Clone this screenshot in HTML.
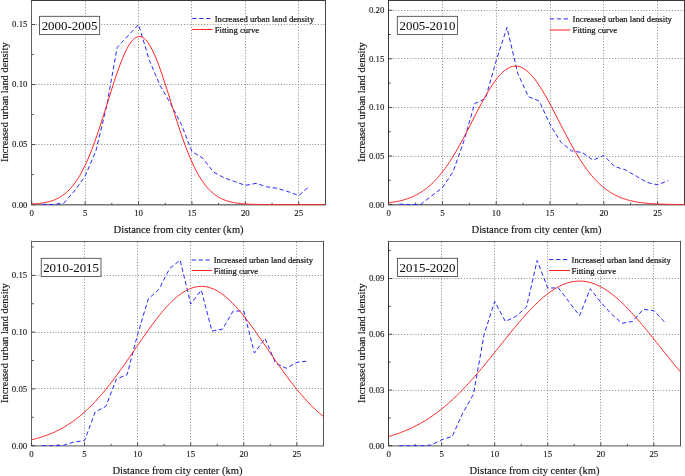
<!DOCTYPE html>
<html><head><meta charset="utf-8"><title>Urban land density</title>
<style>
html,body{margin:0;padding:0;background:#fff;}
body{width:685px;height:476px;overflow:hidden;font-family:"Liberation Serif",serif;}
svg{display:block;font-family:"Liberation Serif",serif;}
svg text{fill:#111;stroke:#111;stroke-width:0.2px;}
svg text.tk{stroke-width:0.1px;}
svg text.tt{stroke-width:0.04px;}
svg text.ax{stroke-width:0.14px;}
</style></head><body>
<svg width="685" height="476" viewBox="0 0 685 476">
<defs><filter id="gs" x="0" y="0" width="100%" height="100%" filterUnits="userSpaceOnUse" color-interpolation-filters="sRGB"><feColorMatrix type="saturate" values="0"/></filter></defs>
<rect width="685" height="476" fill="#fff"/>
<g><clipPath id="c0"><rect x="31.75" y="0.5" width="294.2" height="204.7"/></clipPath>
<path d="M85.5 1.4V204.6M138.5 1.4V204.6M191.5 1.4V204.6M245.5 1.4V204.6M298.5 1.4V204.6M32.95 144.5H325.45M32.95 84.5H325.45M32.95 24.5H325.45" fill="none" stroke="#888" stroke-width="1" stroke-dasharray="1 1.85"/>
<path d="M31 204.75H326" stroke="#777" stroke-width="1.3" fill="none"/>
<path d="M31.5 0V204.9" stroke="#606060" stroke-width="1" fill="none"/>
<path d="M31 0.5H326" stroke="#3a3a3a" stroke-width="1" fill="none"/>
<path d="M325.5 0V204.9" stroke="#484848" stroke-width="1" fill="none"/>
<path d="M31.75 204.6v-3.2M85.15 204.6v-3.2M138.55 204.6v-3.2M191.95 204.6v-3.2M245.35 204.6v-3.2M298.75 204.6v-3.2M58.45 204.6v-1.8M111.85 204.6v-1.8M165.25 204.6v-1.8M218.65 204.6v-1.8M272.05 204.6v-1.8M32 204.6h3.2M32 174.59h1.8M32 144.57h3.2M32 114.56h1.8M32 84.54h3.2M32 54.53h1.8M32 24.51h3.2" fill="none" stroke="#3a3a3a" stroke-width="0.9"/>
<g clip-path="url(#c0)"><polyline points="42.43,204.24 53.11,204.6 63.79,203.16 74.47,191.03 85.15,176.03 95.83,151.17 106.51,106.75 117.19,47.32 127.87,35.92 138.55,24.51 149.23,59.93 159.91,85.14 170.59,103.75 181.27,124.16 191.95,151.65 202.63,158.02 213.31,171.94 223.99,177.71 234.67,181.55 245.35,185.39 256.03,183.35 266.71,186.83 277.39,188.39 288.07,191.63 298.75,195.48 309.43,186.35" fill="none" stroke="#2828ff" stroke-width="1" stroke-dasharray="4.3 2.65" stroke-linejoin="round"/><polyline points="31.75,204.05 33.09,203.97 34.42,203.87 35.76,203.77 37.09,203.64 38.42,203.51 39.76,203.35 41.09,203.18 42.43,202.98 43.77,202.76 45.1,202.52 46.44,202.25 47.77,201.94 49.11,201.6 50.44,201.22 51.77,200.81 53.11,200.35 54.45,199.84 55.78,199.28 57.11,198.66 58.45,197.99 59.78,197.25 61.12,196.44 62.45,195.56 63.79,194.6 65.12,193.56 66.46,192.43 67.8,191.22 69.13,189.9 70.47,188.49 71.8,186.97 73.13,185.34 74.47,183.6 75.81,181.75 77.14,179.77 78.47,177.66 79.81,175.44 81.14,173.08 82.48,170.59 83.81,167.97 85.15,165.22 86.48,162.34 87.82,159.32 89.16,156.18 90.49,152.9 91.82,149.51 93.16,145.99 94.5,142.36 95.83,138.62 97.16,134.79 98.5,130.85 99.83,126.84 101.17,122.75 102.5,118.59 103.84,114.39 105.17,110.14 106.51,105.87 107.84,101.59 109.18,97.31 110.52,93.06 111.85,88.83 113.19,84.66 114.52,80.56 115.86,76.55 117.19,72.63 118.52,68.84 119.86,65.19 121.19,61.68 122.53,58.35 123.86,55.21 125.2,52.26 126.53,49.54 127.87,47.04 129.2,44.78 130.54,42.78 131.88,41.04 133.21,39.57 134.55,38.39 135.88,37.49 137.22,36.88 138.55,36.56 139.88,36.55 141.22,36.82 142.56,37.4 143.89,38.26 145.22,39.42 146.56,40.85 147.89,42.56 149.23,44.53 150.56,46.75 151.9,49.22 153.24,51.93 154.57,54.84 155.91,57.97 157.24,61.27 158.57,64.76 159.91,68.39 161.25,72.17 162.58,76.07 163.91,80.08 165.25,84.17 166.59,88.33 167.92,92.55 169.25,96.8 170.59,101.08 171.92,105.36 173.26,109.63 174.59,113.88 175.93,118.09 177.26,122.25 178.6,126.35 179.94,130.38 181.27,134.32 182.6,138.17 183.94,141.92 185.28,145.56 186.61,149.09 187.94,152.5 189.28,155.79 190.62,158.95 191.95,161.98 193.28,164.88 194.62,167.65 195.95,170.28 197.29,172.79 198.62,175.16 199.96,177.4 201.29,179.52 202.63,181.51 203.97,183.39 205.3,185.14 206.63,186.78 207.97,188.31 209.31,189.74 210.64,191.06 211.97,192.29 213.31,193.43 214.64,194.48 215.98,195.45 217.31,196.34 218.65,197.15 219.98,197.9 221.32,198.58 222.66,199.21 223.99,199.77 225.32,200.29 226.66,200.75 228,201.18 229.33,201.56 230.66,201.9 232,202.21 233.34,202.49 234.67,202.74 236,202.96 237.34,203.16 238.67,203.33 240.01,203.49 241.34,203.63 242.68,203.75 244.01,203.86 245.35,203.96 246.69,204.04 248.02,204.12 249.35,204.18 250.69,204.24 252.03,204.29 253.36,204.33 254.69,204.37 256.03,204.4 257.37,204.43 258.7,204.46 260.03,204.48 261.37,204.49 262.7,204.51 264.04,204.52 265.38,204.54 266.71,204.55 268.04,204.55 269.38,204.56 270.72,204.57 272.05,204.57 273.38,204.58 274.72,204.58 276.06,204.58 277.39,204.59 278.73,204.59 280.06,204.59 281.39,204.59 282.73,204.59 284.06,204.59 285.4,204.6 286.74,204.6 288.07,204.6 289.4,204.6 290.74,204.6 292.07,204.6 293.41,204.6 294.75,204.6 296.08,204.6 297.42,204.6 298.75,204.6 300.08,204.6 301.42,204.6 302.75,204.6 304.09,204.6 305.43,204.6 306.76,204.6 308.09,204.6 309.43,204.6 310.76,204.6 312.1,204.6 313.44,204.6 314.77,204.6 316.11,204.6 317.44,204.6 318.77,204.6 320.11,204.6 321.44,204.6 322.78,204.6 324.12,204.6 325.45,204.6" fill="none" stroke="#ff2222" stroke-width="1"/></g>
<rect x="39.5" y="16.3" width="60.2" height="18.1" fill="#fff" stroke="#3a3a3a" stroke-width="0.8"/>
<path d="M192.2 18.5H210.3" stroke="#2828ff" stroke-width="1" stroke-dasharray="4.3 2.65" fill="none"/>
<path d="M192.2 29.5H212.6" stroke="#ff2222" stroke-width="1" fill="none"/></g>
<g><clipPath id="c1"><rect x="388.6" y="0.5" width="296.4" height="204.7"/></clipPath>
<path d="M442.5 1.4V204.6M496.5 1.4V204.6M550.5 1.4V204.6M603.5 1.4V204.6M657.5 1.4V204.6M389.8 156.5H684.5M389.8 107.5H684.5M389.8 58.5H684.5M389.8 10.5H684.5" fill="none" stroke="#888" stroke-width="1" stroke-dasharray="1 1.85"/>
<path d="M388 204.75H685" stroke="#777" stroke-width="1.3" fill="none"/>
<path d="M388.5 0V204.9" stroke="#3a3a3a" stroke-width="1" fill="none"/>
<path d="M388 0.5H685" stroke="#3a3a3a" stroke-width="1" fill="none"/>
<path d="M684.5 0V204.9" stroke="#3a3a3a" stroke-width="1" fill="none"/>
<path d="M388.6 204.6v-3.2M442.4 204.6v-3.2M496.2 204.6v-3.2M550 204.6v-3.2M603.8 204.6v-3.2M657.6 204.6v-3.2M415.5 204.6v-1.8M469.3 204.6v-1.8M523.1 204.6v-1.8M576.9 204.6v-1.8M630.7 204.6v-1.8M389 204.6h3.2M389 180.3h1.8M389 156h3.2M389 131.71h1.8M389 107.41h3.2M389 83.11h1.8M389 58.81h3.2M389 34.52h1.8M389 10.22h3.2" fill="none" stroke="#3a3a3a" stroke-width="0.9"/>
<g clip-path="url(#c1)"><polyline points="399.36,204.11 410.12,204.6 420.88,204.31 431.64,195.85 442.4,187.69 453.16,171.56 463.92,140.94 474.68,103.52 485.44,98.66 496.2,60.76 506.96,27.42 517.72,73.39 528.48,96.72 539.24,101.09 550,124.32 560.76,142.01 571.52,150.85 582.28,152.6 593.04,160.18 603.8,155.42 614.56,166.5 625.32,169.81 636.08,176.03 646.84,182.34 657.6,184.87 668.36,180.59" fill="none" stroke="#2828ff" stroke-width="1" stroke-dasharray="4.3 2.65" stroke-linejoin="round"/><polyline points="388.6,202.81 389.95,202.64 391.29,202.46 392.64,202.26 393.98,202.04 395.33,201.8 396.67,201.55 398.02,201.28 399.36,200.98 400.71,200.67 402.05,200.33 403.4,199.96 404.74,199.57 406.09,199.15 407.43,198.7 408.78,198.22 410.12,197.71 411.47,197.17 412.81,196.59 414.16,195.97 415.5,195.32 416.85,194.62 418.19,193.89 419.54,193.11 420.88,192.28 422.23,191.41 423.57,190.5 424.92,189.53 426.26,188.51 427.61,187.44 428.95,186.32 430.3,185.14 431.64,183.91 432.99,182.62 434.33,181.28 435.68,179.87 437.02,178.41 438.37,176.88 439.71,175.3 441.06,173.65 442.4,171.95 443.75,170.19 445.09,168.36 446.44,166.48 447.78,164.53 449.12,162.53 450.47,160.48 451.81,158.36 453.16,156.2 454.5,153.98 455.85,151.71 457.2,149.39 458.54,147.03 459.88,144.62 461.23,142.18 462.58,139.7 463.92,137.19 465.26,134.64 466.61,132.08 467.96,129.49 469.3,126.89 470.65,124.27 471.99,121.65 473.34,119.02 474.68,116.4 476.03,113.79 477.37,111.19 478.72,108.61 480.06,106.05 481.41,103.53 482.75,101.04 484.1,98.6 485.44,96.2 486.79,93.85 488.13,91.57 489.48,89.35 490.82,87.21 492.17,85.14 493.51,83.15 494.86,81.25 496.2,79.44 497.55,77.73 498.89,76.12 500.24,74.62 501.58,73.23 502.93,71.95 504.27,70.79 505.62,69.76 506.96,68.85 508.31,68.06 509.65,67.41 511,66.88 512.34,66.49 513.69,66.24 515.03,66.11 516.38,66.13 517.72,66.28 519.07,66.56 520.41,66.98 521.75,67.53 523.1,68.21 524.45,69.02 525.79,69.96 527.13,71.02 528.48,72.2 529.83,73.5 531.17,74.91 532.51,76.43 533.86,78.06 535.21,79.79 536.55,81.62 537.89,83.54 539.24,85.54 540.59,87.63 541.93,89.79 543.27,92.02 544.62,94.32 545.97,96.67 547.31,99.08 548.65,101.54 550,104.03 551.35,106.56 552.69,109.12 554.04,111.71 555.38,114.31 556.73,116.92 558.07,119.55 559.41,122.17 560.76,124.79 562.11,127.41 563.45,130.01 564.8,132.59 566.14,135.16 567.49,137.69 568.83,140.2 570.17,142.67 571.52,145.11 572.87,147.5 574.21,149.86 575.56,152.16 576.9,154.42 578.25,156.63 579.59,158.79 580.94,160.89 582.28,162.94 583.62,164.93 584.97,166.86 586.32,168.73 587.66,170.54 589,172.3 590.35,173.99 591.7,175.62 593.04,177.19 594.38,178.7 595.73,180.16 597.08,181.55 598.42,182.88 599.76,184.16 601.11,185.38 602.46,186.55 603.8,187.66 605.14,188.72 606.49,189.73 607.84,190.68 609.18,191.59 610.52,192.45 611.87,193.27 613.22,194.04 614.56,194.77 615.9,195.45 617.25,196.1 618.6,196.71 619.94,197.28 621.29,197.82 622.63,198.32 623.98,198.79 625.32,199.24 626.66,199.65 628.01,200.04 629.36,200.4 630.7,200.73 632.05,201.04 633.39,201.33 634.74,201.6 636.08,201.85 637.42,202.08 638.77,202.3 640.12,202.5 641.46,202.68 642.81,202.85 644.15,203 645.5,203.15 646.84,203.28 648.18,203.4 649.53,203.51 650.88,203.61 652.22,203.7 653.57,203.79 654.91,203.87 656.25,203.94 657.6,204 658.94,204.06 660.29,204.11 661.63,204.16 662.98,204.21 664.33,204.25 665.67,204.28 667.02,204.32 668.36,204.35 669.71,204.37 671.05,204.4 672.39,204.42 673.74,204.44 675.09,204.46 676.43,204.47 677.78,204.49 679.12,204.5 680.47,204.51 681.81,204.52 683.15,204.53 684.5,204.54" fill="none" stroke="#ff2222" stroke-width="1"/></g>
<rect x="397.3" y="16.3" width="60.3" height="18.1" fill="#fff" stroke="#3a3a3a" stroke-width="0.8"/>
<path d="M549.8 18.9H568" stroke="#2828ff" stroke-width="1" stroke-dasharray="4.3 2.65" fill="none"/>
<path d="M549.8 30H570.3" stroke="#ff2222" stroke-width="1" fill="none"/></g>
<g><clipPath id="c2"><rect x="31.5" y="241.3" width="292.4" height="205"/></clipPath>
<path d="M84.5 242.2V445.7M137.5 242.2V445.7M190.5 242.2V445.7M243.5 242.2V445.7M296.5 242.2V445.7M32.7 388.5H323.4M32.7 332.5H323.4M32.7 275.5H323.4" fill="none" stroke="#888" stroke-width="1" stroke-dasharray="1 1.85"/>
<path d="M31 445.85H324" stroke="#777" stroke-width="1.3" fill="none"/>
<path d="M31.5 240.8V446" stroke="#606060" stroke-width="1" fill="none"/>
<path d="M31 241.5H324" stroke="#666" stroke-width="1" fill="none"/>
<path d="M323.5 240.8V446" stroke="#555" stroke-width="1" fill="none"/>
<path d="M31.5 445.7v-3.2M84.57 445.7v-3.2M137.65 445.7v-3.2M190.72 445.7v-3.2M243.79 445.7v-3.2M296.86 445.7v-3.2M58.04 445.7v-1.8M111.11 445.7v-1.8M164.18 445.7v-1.8M217.25 445.7v-1.8M270.33 445.7v-1.8M32 445.7h3.2M32 417.31h1.8M32 388.92h3.2M32 360.53h1.8M32 332.14h3.2M32 303.76h1.8M32 275.37h3.2M32 246.98h1.8" fill="none" stroke="#3a3a3a" stroke-width="0.9"/>
<g clip-path="url(#c2)"><polyline points="42.11,445.7 52.73,445.7 63.34,445.36 73.96,441.95 84.57,440.59 95.19,411.97 105.8,406.41 116.42,379.04 127.03,374.73 137.65,334.42 148.26,298.99 158.87,289.45 169.49,268.78 180.1,260.04 190.72,303.98 201.33,290.13 211.95,331.12 222.56,329.08 233.18,311.02 243.79,311.02 254.41,353.04 265.02,338.39 275.63,363.15 286.25,368.26 296.86,362.35 307.48,361.1" fill="none" stroke="#2828ff" stroke-width="1" stroke-dasharray="4.3 2.65" stroke-linejoin="round"/><polyline points="31.5,439.75 32.83,439.44 34.15,439.11 35.48,438.77 36.81,438.41 38.13,438.04 39.46,437.66 40.79,437.26 42.11,436.84 43.44,436.4 44.77,435.95 46.09,435.48 47.42,434.99 48.75,434.48 50.08,433.96 51.4,433.41 52.73,432.84 54.06,432.25 55.38,431.64 56.71,431.01 58.04,430.36 59.36,429.68 60.69,428.98 62.02,428.26 63.34,427.51 64.67,426.74 66,425.94 67.32,425.12 68.65,424.28 69.98,423.4 71.3,422.5 72.63,421.58 73.96,420.63 75.28,419.65 76.61,418.64 77.94,417.61 79.27,416.54 80.59,415.45 81.92,414.33 83.25,413.19 84.57,412.01 85.9,410.81 87.23,409.58 88.55,408.31 89.88,407.03 91.21,405.71 92.53,404.36 93.86,402.99 95.19,401.59 96.51,400.15 97.84,398.7 99.17,397.21 100.49,395.7 101.82,394.16 103.15,392.6 104.47,391.01 105.8,389.4 107.13,387.76 108.46,386.09 109.78,384.41 111.11,382.7 112.44,380.97 113.76,379.22 115.09,377.45 116.42,375.66 117.74,373.85 119.07,372.03 120.4,370.19 121.72,368.33 123.05,366.46 124.38,364.58 125.7,362.69 127.03,360.78 128.36,358.87 129.68,356.95 131.01,355.02 132.34,353.09 133.66,351.16 134.99,349.22 136.32,347.29 137.65,345.35 138.97,343.42 140.3,341.5 141.63,339.58 142.95,337.66 144.28,335.76 145.61,333.87 146.93,331.99 148.26,330.13 149.59,328.28 150.91,326.46 152.24,324.65 153.57,322.86 154.89,321.1 156.22,319.36 157.55,317.65 158.87,315.97 160.2,314.32 161.53,312.7 162.85,311.12 164.18,309.57 165.51,308.06 166.84,306.59 168.16,305.16 169.49,303.77 170.82,302.43 172.14,301.13 173.47,299.87 174.8,298.67 176.12,297.51 177.45,296.41 178.78,295.36 180.1,294.36 181.43,293.41 182.76,292.53 184.08,291.69 185.41,290.92 186.74,290.2 188.06,289.55 189.39,288.95 190.72,288.41 192.04,287.94 193.37,287.53 194.7,287.18 196.03,286.89 197.35,286.67 198.68,286.51 200.01,286.41 201.33,286.38 202.66,286.41 203.99,286.51 205.31,286.67 206.64,286.89 207.97,287.18 209.29,287.53 210.62,287.94 211.95,288.41 213.27,288.95 214.6,289.55 215.93,290.2 217.25,290.92 218.58,291.69 219.91,292.53 221.23,293.41 222.56,294.36 223.89,295.36 225.22,296.41 226.54,297.51 227.87,298.67 229.2,299.87 230.52,301.13 231.85,302.43 233.18,303.77 234.5,305.16 235.83,306.59 237.16,308.06 238.48,309.57 239.81,311.12 241.14,312.7 242.46,314.32 243.79,315.97 245.12,317.65 246.44,319.36 247.77,321.1 249.1,322.86 250.42,324.65 251.75,326.46 253.08,328.28 254.41,330.13 255.73,331.99 257.06,333.87 258.39,335.76 259.71,337.66 261.04,339.58 262.37,341.5 263.69,343.42 265.02,345.35 266.35,347.29 267.67,349.22 269,351.16 270.33,353.09 271.65,355.02 272.98,356.95 274.31,358.87 275.63,360.78 276.96,362.69 278.29,364.58 279.62,366.46 280.94,368.33 282.27,370.19 283.6,372.03 284.92,373.85 286.25,375.66 287.58,377.45 288.9,379.22 290.23,380.97 291.56,382.7 292.88,384.41 294.21,386.09 295.54,387.76 296.86,389.4 298.19,391.01 299.52,392.6 300.84,394.16 302.17,395.7 303.5,397.21 304.82,398.7 306.15,400.15 307.48,401.59 308.8,402.99 310.13,404.36 311.46,405.71 312.79,407.03 314.11,408.31 315.44,409.58 316.77,410.81 318.09,412.01 319.42,413.19 320.75,414.33 322.07,415.45 323.4,416.54" fill="none" stroke="#ff2222" stroke-width="1"/></g>
<rect x="41.2" y="258.3" width="59.8" height="18.1" fill="#fff" stroke="#3a3a3a" stroke-width="0.8"/>
<path d="M191.7 260H209.8" stroke="#2828ff" stroke-width="1" stroke-dasharray="4.3 2.65" fill="none"/>
<path d="M191.7 270.5H212.1" stroke="#ff2222" stroke-width="1" fill="none"/></g>
<g><clipPath id="c3"><rect x="388.6" y="241.3" width="292.3" height="205.1"/></clipPath>
<path d="M441.5 242.2V445.8M494.5 242.2V445.8M547.5 242.2V445.8M600.5 242.2V445.8M653.5 242.2V445.8M389.8 390.5H680.4M389.8 334.5H680.4M389.8 278.5H680.4" fill="none" stroke="#888" stroke-width="1" stroke-dasharray="1 1.85"/>
<path d="M388 445.95H681" stroke="#777" stroke-width="1.3" fill="none"/>
<path d="M388.5 240.8V446.1" stroke="#3a3a3a" stroke-width="1" fill="none"/>
<path d="M388 241.5H681" stroke="#666" stroke-width="1" fill="none"/>
<path d="M680.5 240.8V446.1" stroke="#555" stroke-width="1" fill="none"/>
<path d="M388.6 445.8v-3.2M441.65 445.8v-3.2M494.71 445.8v-3.2M547.76 445.8v-3.2M600.82 445.8v-3.2M653.87 445.8v-3.2M415.13 445.8v-1.8M468.18 445.8v-1.8M521.24 445.8v-1.8M574.29 445.8v-1.8M627.35 445.8v-1.8M389 445.8h3.2M389 417.91h1.8M389 390.03h3.2M389 362.14h1.8M389 334.25h3.2M389 306.37h1.8M389 278.48h3.2M389 250.6h1.8" fill="none" stroke="#3a3a3a" stroke-width="0.9"/>
<g clip-path="url(#c3)"><polyline points="399.21,445.8 409.82,445.8 420.43,445.8 431.04,445.06 441.65,439.85 452.27,436.32 462.88,412.89 473.49,394.12 484.1,334.44 494.71,301.35 505.32,321.43 515.93,316.41 526.54,306.93 537.15,260.45 547.76,287.96 558.37,287.96 568.99,301.91 579.6,315.66 590.21,288.71 600.82,302.28 611.43,313.99 622.04,323.29 632.65,321.43 643.26,309.34 653.87,310.64 664.48,321.98" fill="none" stroke="#2828ff" stroke-width="1" stroke-dasharray="4.3 2.65" stroke-linejoin="round"/><polyline points="388.6,436.48 389.93,436.1 391.25,435.71 392.58,435.31 393.91,434.89 395.23,434.47 396.56,434.02 397.88,433.56 399.21,433.09 400.54,432.61 401.86,432.11 403.19,431.59 404.52,431.06 405.84,430.51 407.17,429.95 408.5,429.37 409.82,428.77 411.15,428.16 412.47,427.53 413.8,426.89 415.13,426.22 416.45,425.54 417.78,424.84 419.11,424.13 420.43,423.39 421.76,422.63 423.09,421.86 424.41,421.07 425.74,420.26 427.06,419.43 428.39,418.58 429.72,417.71 431.04,416.82 432.37,415.91 433.7,414.98 435.02,414.03 436.35,413.06 437.68,412.07 439,411.06 440.33,410.03 441.65,408.98 442.98,407.91 444.31,406.82 445.63,405.71 446.96,404.58 448.29,403.42 449.61,402.25 450.94,401.06 452.27,399.85 453.59,398.61 454.92,397.36 456.24,396.09 457.57,394.8 458.9,393.49 460.22,392.16 461.55,390.82 462.88,389.45 464.2,388.07 465.53,386.67 466.86,385.25 468.18,383.82 469.51,382.37 470.83,380.9 472.16,379.42 473.49,377.92 474.81,376.41 476.14,374.89 477.47,373.35 478.79,371.8 480.12,370.23 481.45,368.65 482.77,367.07 484.1,365.47 485.42,363.86 486.75,362.25 488.08,360.62 489.4,358.99 490.73,357.35 492.06,355.71 493.38,354.06 494.71,352.4 496.04,350.75 497.36,349.09 498.69,347.42 500.01,345.76 501.34,344.1 502.67,342.44 503.99,340.78 505.32,339.12 506.65,337.47 507.97,335.82 509.3,334.18 510.63,332.54 511.95,330.92 513.28,329.3 514.6,327.69 515.93,326.09 517.26,324.5 518.58,322.93 519.91,321.37 521.24,319.83 522.56,318.3 523.89,316.79 525.22,315.3 526.54,313.83 527.87,312.38 529.19,310.95 530.52,309.54 531.85,308.15 533.17,306.79 534.5,305.46 535.83,304.15 537.15,302.87 538.48,301.61 539.81,300.39 541.13,299.2 542.46,298.04 543.78,296.91 545.11,295.81 546.44,294.74 547.76,293.72 549.09,292.72 550.42,291.77 551.74,290.85 553.07,289.96 554.4,289.12 555.72,288.31 557.05,287.55 558.37,286.82 559.7,286.14 561.03,285.5 562.35,284.9 563.68,284.34 565.01,283.82 566.33,283.35 567.66,282.92 568.99,282.54 570.31,282.2 571.64,281.9 572.96,281.65 574.29,281.45 575.62,281.29 576.94,281.18 578.27,281.11 579.6,281.08 580.92,281.11 582.25,281.18 583.58,281.29 584.9,281.45 586.23,281.65 587.55,281.9 588.88,282.2 590.21,282.54 591.53,282.92 592.86,283.35 594.19,283.82 595.51,284.34 596.84,284.9 598.17,285.5 599.49,286.14 600.82,286.82 602.14,287.55 603.47,288.31 604.8,289.12 606.12,289.96 607.45,290.85 608.78,291.77 610.1,292.72 611.43,293.72 612.76,294.74 614.08,295.81 615.41,296.91 616.73,298.04 618.06,299.2 619.39,300.39 620.71,301.61 622.04,302.87 623.37,304.15 624.69,305.46 626.02,306.79 627.35,308.15 628.67,309.54 630,310.95 631.32,312.38 632.65,313.83 633.98,315.3 635.3,316.79 636.63,318.3 637.96,319.83 639.28,321.37 640.61,322.93 641.94,324.5 643.26,326.09 644.59,327.69 645.91,329.3 647.24,330.92 648.57,332.54 649.89,334.18 651.22,335.82 652.55,337.47 653.87,339.12 655.2,340.78 656.53,342.44 657.85,344.1 659.18,345.76 660.5,347.42 661.83,349.09 663.16,350.75 664.48,352.4 665.81,354.06 667.14,355.71 668.46,357.35 669.79,358.99 671.12,360.62 672.44,362.25 673.77,363.86 675.09,365.47 676.42,367.07 677.75,368.65 679.07,370.23 680.4,371.8" fill="none" stroke="#ff2222" stroke-width="1"/></g>
<rect x="397.5" y="258.3" width="60.1" height="18.1" fill="#fff" stroke="#3a3a3a" stroke-width="0.8"/>
<path d="M549.1 259.55H567.7" stroke="#2828ff" stroke-width="1" stroke-dasharray="4.3 2.65" fill="none"/>
<path d="M549.1 270.5H570" stroke="#ff2222" stroke-width="1" fill="none"/></g>
<g filter="url(#gs)">
<text x="31.75" y="216.05" text-anchor="middle" font-size="8.8" class="tk">0</text>
<text x="85.15" y="216.05" text-anchor="middle" font-size="8.8" class="tk">5</text>
<text x="138.55" y="216.05" text-anchor="middle" font-size="8.8" class="tk">10</text>
<text x="191.95" y="216.05" text-anchor="middle" font-size="8.8" class="tk">15</text>
<text x="245.35" y="216.05" text-anchor="middle" font-size="8.8" class="tk">20</text>
<text x="298.75" y="216.05" text-anchor="middle" font-size="8.8" class="tk">25</text>
<text x="27.45" y="207.5" text-anchor="end" font-size="8.8" class="tk">0.00</text>
<text x="27.45" y="147.47" text-anchor="end" font-size="8.8" class="tk">0.05</text>
<text x="27.45" y="87.44" text-anchor="end" font-size="8.8" class="tk">0.10</text>
<text x="27.45" y="27.41" text-anchor="end" font-size="8.8" class="tk">0.15</text>
<text x="178.6" y="232.5" text-anchor="middle" font-size="10.55" class="ax">Distance from city center (km)</text>
<text transform="translate(8.15 102.25) rotate(-90)" text-anchor="middle" font-size="10.45" class="ax">Increased urban land density</text>
<text x="69.6" y="29.85" text-anchor="middle" font-size="12.9" class="tt">2000-2005</text>
<text x="214.7" y="21.7" font-size="8.66">Increased urban land density</text>
<text x="214.7" y="32.8" font-size="8.66">Fitting curve</text>
<text x="388.6" y="216.05" text-anchor="middle" font-size="8.8" class="tk">0</text>
<text x="442.4" y="216.05" text-anchor="middle" font-size="8.8" class="tk">5</text>
<text x="496.2" y="216.05" text-anchor="middle" font-size="8.8" class="tk">10</text>
<text x="550" y="216.05" text-anchor="middle" font-size="8.8" class="tk">15</text>
<text x="603.8" y="216.05" text-anchor="middle" font-size="8.8" class="tk">20</text>
<text x="657.6" y="216.05" text-anchor="middle" font-size="8.8" class="tk">25</text>
<text x="384.3" y="207.5" text-anchor="end" font-size="8.8" class="tk">0.00</text>
<text x="384.3" y="158.9" text-anchor="end" font-size="8.8" class="tk">0.05</text>
<text x="384.3" y="110.31" text-anchor="end" font-size="8.8" class="tk">0.10</text>
<text x="384.3" y="61.71" text-anchor="end" font-size="8.8" class="tk">0.15</text>
<text x="384.3" y="13.12" text-anchor="end" font-size="8.8" class="tk">0.20</text>
<text x="536.55" y="232.5" text-anchor="middle" font-size="10.55" class="ax">Distance from city center (km)</text>
<text transform="translate(364.6 102.25) rotate(-90)" text-anchor="middle" font-size="10.45" class="ax">Increased urban land density</text>
<text x="427.45" y="29.85" text-anchor="middle" font-size="12.9" class="tt">2005-2010</text>
<text x="572.6" y="21.9" font-size="8.66">Increased urban land density</text>
<text x="572.6" y="33" font-size="8.66">Fitting curve</text>
<text x="31.5" y="457.15" text-anchor="middle" font-size="8.8" class="tk">0</text>
<text x="84.57" y="457.15" text-anchor="middle" font-size="8.8" class="tk">5</text>
<text x="137.65" y="457.15" text-anchor="middle" font-size="8.8" class="tk">10</text>
<text x="190.72" y="457.15" text-anchor="middle" font-size="8.8" class="tk">15</text>
<text x="243.79" y="457.15" text-anchor="middle" font-size="8.8" class="tk">20</text>
<text x="296.86" y="457.15" text-anchor="middle" font-size="8.8" class="tk">25</text>
<text x="27.2" y="448.6" text-anchor="end" font-size="8.8" class="tk">0.00</text>
<text x="27.2" y="391.82" text-anchor="end" font-size="8.8" class="tk">0.05</text>
<text x="27.2" y="335.04" text-anchor="end" font-size="8.8" class="tk">0.10</text>
<text x="27.2" y="278.27" text-anchor="end" font-size="8.8" class="tk">0.15</text>
<text x="177.45" y="473.6" text-anchor="middle" font-size="10.55" class="ax">Distance from city center (km)</text>
<text transform="translate(7.9 343.2) rotate(-90)" text-anchor="middle" font-size="10.45" class="ax">Increased urban land density</text>
<text x="71.1" y="271.85" text-anchor="middle" font-size="12.9" class="tt">2010-2015</text>
<text x="213.7" y="262.55" font-size="8.66">Increased urban land density</text>
<text x="213.7" y="273.5" font-size="8.66">Fitting curve</text>
<text x="388.6" y="457.25" text-anchor="middle" font-size="8.8" class="tk">0</text>
<text x="441.65" y="457.25" text-anchor="middle" font-size="8.8" class="tk">5</text>
<text x="494.71" y="457.25" text-anchor="middle" font-size="8.8" class="tk">10</text>
<text x="547.76" y="457.25" text-anchor="middle" font-size="8.8" class="tk">15</text>
<text x="600.82" y="457.25" text-anchor="middle" font-size="8.8" class="tk">20</text>
<text x="653.87" y="457.25" text-anchor="middle" font-size="8.8" class="tk">25</text>
<text x="384.3" y="448.7" text-anchor="end" font-size="8.8" class="tk">0.00</text>
<text x="384.3" y="392.93" text-anchor="end" font-size="8.8" class="tk">0.03</text>
<text x="384.3" y="337.15" text-anchor="end" font-size="8.8" class="tk">0.06</text>
<text x="384.3" y="281.38" text-anchor="end" font-size="8.8" class="tk">0.09</text>
<text x="534.5" y="473.7" text-anchor="middle" font-size="10.55" class="ax">Distance from city center (km)</text>
<text transform="translate(364.6 343.25) rotate(-90)" text-anchor="middle" font-size="10.45" class="ax">Increased urban land density</text>
<text x="427.55" y="271.85" text-anchor="middle" font-size="12.9" class="tt">2015-2020</text>
<text x="571.5" y="262.55" font-size="8.66">Increased urban land density</text>
<text x="571.5" y="273.5" font-size="8.66">Fitting curve</text>
</g>
</svg>
</body></html>
